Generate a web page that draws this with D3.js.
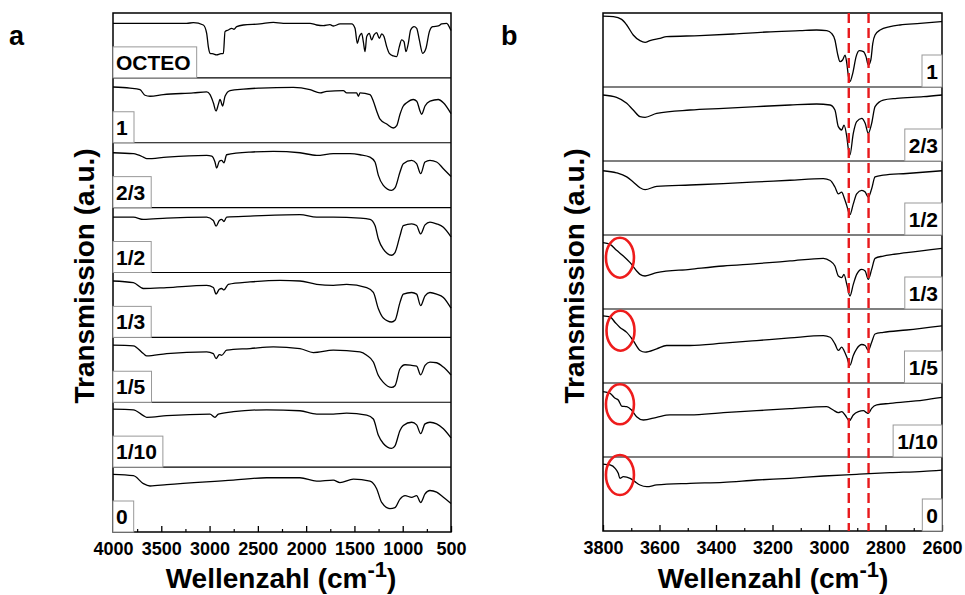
<!DOCTYPE html>
<html><head><meta charset="utf-8">
<script src="https://cdn.jsdelivr.net/npm/d3@7"></script>
<style>
body{margin:0;background:#fff}
svg{display:block}
text{font-family:"Liberation Sans",Arial,sans-serif;font-weight:bold;fill:#000}
</style>
</head><body><svg id="c" width="965" height="595"></svg>
<script>
// ---------- DATA ----------
const rowsA = ["OCTEO","1","2/3","1/2","1/3","1/5","1/10","0"];
const ticksA = [4000,3500,3000,2500,2000,1500,1000,500];
const rowsB = ["1","2/3","1/2","1/3","1/5","1/10","0"];
const ticksB = [3800,3600,3400,3200,3000,2800,2600];
const dashedLinesB = [2930, 2860];
const circledRowsB = ["1/3","1/5","1/10","0"];
const circleWnB = [3740, 3738, 3740, 3740];
const circleTB = [0.693, 0.707, 0.712, 0.757];

// [wavenumber, normalised transmission within the row]
const specA_OCTEO = [[4000,0.841],[3237,0.841],[3168,0.851],[3065,0.815],[3030,0.687],[3013,0.482],[2995,0.379],[2961,0.369],[2927,0.354],[2892,0.369],[2857,0.379],[2840,0.713],[2806,0.738],[2771,0.764],[2747,0.749],[2719,0.79],[2650,0.815],[2478,0.831],[2340,0.856],[2236,0.841],[1960,0.841],[1891,0.815],[1822,0.805],[1753,0.82],[1718,0.8],[1649,0.831],[1528,0.831],[1494,0.764],[1470,0.533],[1449,0.636],[1425,0.687],[1408,0.559],[1390,0.405],[1373,0.636],[1346,0.687],[1322,0.585],[1297,0.662],[1270,0.697],[1242,0.61],[1218,0.677],[1194,0.636],[1166,0.482],[1139,0.379],[1097,0.338],[1062,0.328],[1035,0.482],[1011,0.585],[987,0.559],[966,0.405],[942,0.533],[918,0.738],[883,0.79],[855,0.764],[828,0.585],[793,0.379],[759,0.456],[724,0.713],[690,0.79],[631,0.8],[597,0.831],[545,0.841],[528,0.815],[500,0.73]];
const specA_1 = [[4000,0.859],[3824,0.843],[3720,0.818],[3669,0.732],[3617,0.717],[3479,0.742],[3168,0.768],[3030,0.783],[2995,0.742],[2961,0.616],[2933,0.49],[2909,0.591],[2892,0.667],[2864,0.566],[2840,0.717],[2788,0.803],[2650,0.828],[2478,0.843],[2133,0.854],[1960,0.818],[1856,0.768],[1787,0.793],[1615,0.803],[1580,0.768],[1477,0.768],[1459,0.717],[1442,0.768],[1339,0.742],[1304,0.641],[1270,0.49],[1235,0.364],[1166,0.288],[1097,0.227],[1062,0.263],[1028,0.439],[994,0.566],[959,0.616],[890,0.667],[855,0.641],[821,0.49],[804,0.439],[769,0.566],[717,0.641],[631,0.667],[579,0.616],[500,0.45]];
const specA_23 = [[4000,0.846],[3789,0.831],[3686,0.779],[3651,0.754],[3444,0.779],[3030,0.805],[2978,0.795],[2944,0.703],[2927,0.61],[2899,0.713],[2875,0.728],[2851,0.692],[2823,0.815],[2581,0.856],[2340,0.867],[2064,0.846],[1891,0.805],[1719,0.831],[1546,0.831],[1442,0.815],[1339,0.779],[1287,0.703],[1252,0.497],[1201,0.344],[1115,0.267],[1080,0.303],[1028,0.549],[994,0.677],[907,0.728],[856,0.677],[814,0.523],[769,0.703],[718,0.728],[649,0.703],[579,0.6],[500,0.48]];
const specA_12 = [[4000,0.854],[3789,0.854],[3686,0.818],[3444,0.839],[3030,0.854],[2961,0.802],[2933,0.714],[2899,0.802],[2875,0.818],[2851,0.786],[2823,0.854],[2581,0.870],[2064,0.891],[1891,0.854],[1719,0.854],[1442,0.839],[1339,0.818],[1287,0.724],[1252,0.516],[1201,0.359],[1115,0.266],[1080,0.307],[1028,0.568],[994,0.724],[907,0.75],[856,0.724],[814,0.594],[769,0.734],[718,0.776],[649,0.75],[579,0.698],[500,0.55]];
const specA_13 = [[4000,0.869],[3789,0.843],[3686,0.753],[3444,0.768],[3030,0.803],[2961,0.768],[2933,0.667],[2899,0.742],[2875,0.753],[2851,0.732],[2806,0.818],[2581,0.854],[2271,0.879],[2064,0.869],[1891,0.818],[1719,0.803],[1581,0.818],[1373,0.768],[1304,0.692],[1252,0.44],[1201,0.298],[1115,0.237],[1080,0.263],[1028,0.54],[994,0.667],[907,0.692],[856,0.667],[814,0.49],[769,0.641],[718,0.692],[649,0.667],[579,0.616],[500,0.45]];
const specA_15 = [[4000,0.880],[3789,0.870],[3686,0.75],[3651,0.714],[3444,0.75],[3030,0.776],[2961,0.75],[2933,0.672],[2899,0.734],[2875,0.724],[2823,0.802],[2581,0.828],[2340,0.854],[2064,0.828],[1926,0.766],[1719,0.802],[1442,0.776],[1373,0.724],[1304,0.62],[1252,0.411],[1201,0.307],[1115,0.229],[1080,0.255],[1028,0.516],[976,0.578],[907,0.568],[856,0.557],[814,0.422],[769,0.568],[718,0.62],[649,0.609],[579,0.542],[500,0.42]];
const specA_110 = [[4000,0.894],[3789,0.884],[3686,0.793],[3651,0.768],[3444,0.793],[2996,0.818],[2944,0.768],[2909,0.818],[2754,0.854],[2409,0.884],[2064,0.869],[1891,0.818],[1719,0.818],[1581,0.833],[1373,0.803],[1304,0.742],[1252,0.49],[1201,0.364],[1115,0.288],[1080,0.328],[1028,0.566],[994,0.641],[907,0.692],[856,0.652],[814,0.515],[769,0.667],[718,0.692],[649,0.667],[579,0.591],[500,0.45]];
const specA_0 = [[4000,0.889],[3789,0.868],[3686,0.746],[3617,0.709],[3444,0.73],[2754,0.799],[2409,0.836],[2064,0.836],[1891,0.783],[1719,0.799],[1650,0.762],[1511,0.815],[1339,0.783],[1270,0.667],[1218,0.455],[1132,0.36],[1080,0.376],[1028,0.508],[976,0.561],[907,0.534],[856,0.561],[814,0.455],[769,0.587],[718,0.64],[649,0.614],[579,0.534],[500,0.44]];

const specB_1 = [[3800,0.959],[3763,0.95],[3734,0.914],[3716,0.838],[3693,0.703],[3669,0.626],[3651,0.604],[3634,0.626],[3598,0.658],[3575,0.68],[3457,0.694],[3339,0.716],[3221,0.743],[3103,0.761],[3044,0.77],[3008,0.761],[2991,0.725],[2979,0.635],[2970,0.455],[2961,0.342],[2952,0.365],[2943,0.432],[2937,0.32],[2931,0.14],[2926,0.072],[2916,0.185],[2904,0.41],[2893,0.491],[2878,0.477],[2869,0.41],[2861,0.297],[2852,0.365],[2845,0.59],[2837,0.703],[2819,0.77],[2784,0.815],[2749,0.838],[2678,0.86],[2600,0.885]];
const specB_23 = [[3800,0.892],[3752,0.86],[3716,0.779],[3693,0.689],[3669,0.599],[3651,0.59],[3610,0.644],[3492,0.689],[3374,0.712],[3256,0.735],[3138,0.757],[3044,0.77],[2996,0.757],[2979,0.689],[2967,0.464],[2955,0.419],[2947,0.486],[2937,0.329],[2931,0.149],[2926,0.081],[2914,0.374],[2902,0.532],[2884,0.577],[2872,0.509],[2861,0.374],[2849,0.509],[2837,0.735],[2808,0.824],[2760,0.847],[2666,0.869],[2600,0.892]];
const specB_12 = [[3800,0.868],[3752,0.84],[3716,0.785],[3693,0.717],[3669,0.639],[3651,0.612],[3610,0.658],[3492,0.676],[3374,0.694],[3256,0.717],[3138,0.74],[3020,0.763],[2996,0.74],[2979,0.648],[2967,0.557],[2955,0.58],[2947,0.511],[2937,0.397],[2926,0.274],[2914,0.42],[2902,0.557],[2884,0.603],[2872,0.58],[2861,0.511],[2849,0.626],[2837,0.785],[2808,0.808],[2725,0.831],[2600,0.868]];
const specB_13 = [[3800,0.896],[3775,0.874],[3752,0.793],[3728,0.716],[3704,0.626],[3681,0.514],[3669,0.468],[3651,0.446],[3610,0.491],[3492,0.536],[3374,0.581],[3256,0.613],[3138,0.649],[3020,0.685],[2996,0.649],[2979,0.581],[2967,0.446],[2955,0.424],[2947,0.468],[2937,0.333],[2926,0.176],[2914,0.333],[2902,0.468],[2884,0.536],[2872,0.514],[2861,0.401],[2849,0.536],[2837,0.685],[2808,0.716],[2725,0.761],[2600,0.82]];
const specB_15 = [[3800,0.907],[3775,0.893],[3757,0.818],[3740,0.751],[3716,0.684],[3693,0.573],[3669,0.44],[3651,0.418],[3610,0.462],[3575,0.507],[3492,0.507],[3374,0.538],[3256,0.573],[3138,0.609],[3020,0.64],[2996,0.618],[2979,0.529],[2967,0.44],[2955,0.484],[2947,0.44],[2937,0.351],[2926,0.24],[2914,0.373],[2902,0.462],[2884,0.52],[2872,0.507],[2861,0.44],[2849,0.551],[2837,0.662],[2808,0.684],[2725,0.716],[2600,0.773]];
const specB_110 = [[3800,0.883],[3775,0.86],[3757,0.793],[3746,0.77],[3734,0.689],[3716,0.68],[3699,0.635],[3681,0.545],[3657,0.5],[3610,0.536],[3563,0.568],[3492,0.568],[3374,0.599],[3256,0.626],[3138,0.653],[3008,0.68],[2985,0.635],[2967,0.599],[2955,0.613],[2943,0.568],[2928,0.491],[2914,0.568],[2896,0.613],[2878,0.626],[2867,0.599],[2861,0.59],[2849,0.658],[2831,0.703],[2784,0.725],[2666,0.77],[2600,0.806]];
const specB_0 = [[3800,0.905],[3775,0.892],[3757,0.847],[3746,0.779],[3740,0.712],[3728,0.734],[3704,0.712],[3687,0.667],[3669,0.622],[3645,0.599],[3610,0.622],[3492,0.644],[3374,0.658],[3256,0.689],[3138,0.712],[3020,0.743],[2902,0.766],[2784,0.788],[2666,0.806],[2600,0.824]];

const seriesA = [specA_OCTEO, specA_1, specA_23, specA_12, specA_13, specA_15, specA_110, specA_0];
const seriesB = [specB_1, specB_23, specB_12, specB_13, specB_15, specB_110, specB_0];

// ---------- DRAW ----------
const svg = d3.select("#c");

function panel(opt){
  const g = svg.append("g");
  const x = d3.scaleLinear().domain(opt.xDomain).range([opt.left, opt.right]);
  const band = d3.scaleBand().domain(opt.rows).range([opt.top, opt.bottom]).padding(0);
  const line = d3.line().x(d => x(d[0])).curve(d3.curveMonotoneX);
  opt.rows.forEach((r, i) => {
    const y = d3.scaleLinear().domain([0,1]).range([band(r)+band.bandwidth(), band(r)]);
    g.append("path").datum(opt.series[i])
      .attr("d", line.y(d => y(d[1])))
      .attr("fill","none").attr("stroke","#000").attr("stroke-width",1.3)
      .attr("stroke-linejoin","round");
  });
  opt.rows.slice(1).forEach(r => {
    g.append("line").attr("x1",opt.left).attr("x2",opt.right)
      .attr("y1",band(r)).attr("y2",band(r)).attr("stroke","#000").attr("stroke-width",1.2);
  });
  g.append("rect").attr("x",opt.left).attr("y",opt.top)
    .attr("width",opt.right-opt.left).attr("height",opt.bottom-opt.top)
    .attr("fill","none").attr("stroke","#000").attr("stroke-width",1.5);
  const ax = g.append("g").attr("transform",`translate(0,${opt.bottom})`)
    .call(d3.axisBottom(x).tickValues(opt.ticks).tickSize(-6).tickPadding(10).tickFormat(d3.format("d")));
  ax.select(".domain").remove();
  ax.selectAll(".tick line").attr("stroke-width",1.3);
  ax.selectAll("text").style("font-size","18px").style("font-family",'"Liberation Sans",Arial,sans-serif').style("font-weight","bold");
  const minor = g.append("g").attr("transform",`translate(0,${opt.bottom})`)
    .call(d3.axisBottom(x).tickValues(opt.minor).tickSize(-3).tickFormat(""));
  minor.select(".domain").remove();
  minor.selectAll(".tick line").attr("stroke-width",1.2);
  return {g, x, band};
}

const A = panel({left:113,right:451,top:13,bottom:532,xDomain:[4000,500],rows:rowsA,series:seriesA,
  ticks:ticksA, minor:d3.range(3750,500,-500)});
const B = panel({left:603,right:942,top:13,bottom:531,xDomain:[3800,2600],rows:rowsB,series:seriesB,
  ticks:ticksB, minor:d3.range(3700,2600,-200)});

dashedLinesB.forEach(w => {
  B.g.append("line").attr("x1",B.x(w)).attr("x2",B.x(w)).attr("y1",13).attr("y2",531)
    .attr("stroke","#e8191c").attr("stroke-width",2.4).attr("stroke-dasharray","10,5");
});

circledRowsB.forEach((r,i) => {
  const y = d3.scaleLinear().domain([0,1]).range([B.band(r)+B.band.bandwidth(), B.band(r)]);
  B.g.append("ellipse").attr("cx",B.x(circleWnB[i])).attr("cy",y(circleTB[i]))
    .attr("rx",14).attr("ry",20).attr("fill","none").attr("stroke","#ee1c1c").attr("stroke-width",2.6);
});

rowsA.forEach(r => {
  const yb = A.band(r)+A.band.bandwidth();
  const box = A.g.append("rect");
  const t = A.g.append("text").attr("x",116).attr("y",yb-8).style("font-size","21px").text(r);
  const w = t.node().getBBox().width;
  box.attr("x",113).attr("y",yb-31).attr("width",w+9).attr("height",31)
    .attr("fill","#fff").attr("stroke","#999").attr("stroke-width",1);
});
rowsB.forEach(r => {
  const yb = B.band(r)+B.band.bandwidth();
  const box = B.g.append("rect");
  const t = B.g.append("text").attr("x",938).attr("y",yb-8).attr("text-anchor","end").style("font-size","21px").text(r);
  const w = t.node().getBBox().width;
  box.attr("x",942-w-8).attr("y",yb-32).attr("width",w+8).attr("height",32)
    .attr("fill","#fff").attr("stroke","#999").attr("stroke-width",1);
});

function xTitle(cx){
  const t = svg.append("text").attr("x",cx).attr("y",588).attr("text-anchor","middle").style("font-size","28px");
  t.append("tspan").text("Wellenzahl (cm");
  t.append("tspan").attr("dy",-11).style("font-size","22px").text("-1");
  t.append("tspan").attr("dy",11).text(")");
}
xTitle(281); xTitle(773);
function yTitle(bx){
  svg.append("text").attr("transform",`translate(${bx},276) rotate(-90)`).attr("text-anchor","middle")
    .style("font-size","28px").text("Transmission (a.u.)");
}
yTitle(94); yTitle(584);
svg.append("text").attr("x",9).attr("y",45).style("font-size","27px").text("a");
svg.append("text").attr("x",501).attr("y",45).style("font-size","27px").text("b");
</script></body></html>
